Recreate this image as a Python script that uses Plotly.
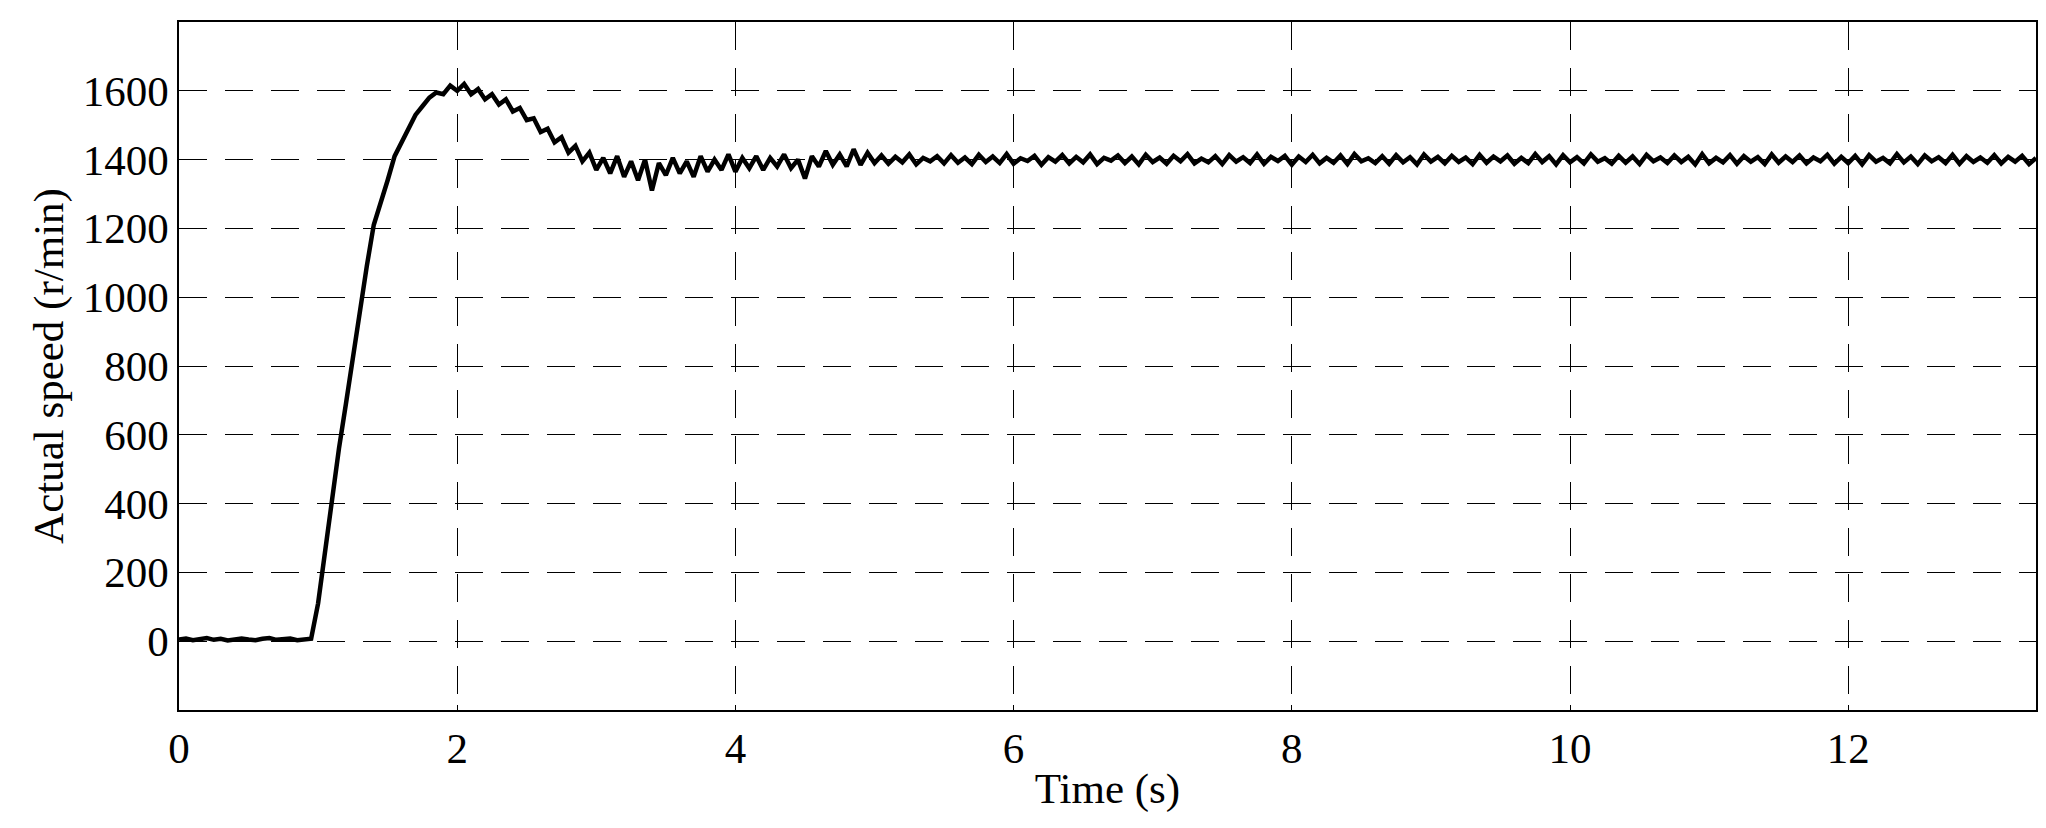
import plotly.graph_objects as go

# measured speed, sampled every 0.05 s
speed = [
    5, 8, 3, 6, 9, 4, 7, 2, 6, 8, 5, 3, 7, 9, 4, 6, 8, 3, 5, 7,
    110, 260, 420, 560, 690, 830, 960, 1090, 1210, 1270,
    1340, 1410, 1450, 1490, 1530, 1555, 1580, 1595, 1590, 1615,
    1600, 1620, 1590, 1605, 1575, 1590, 1560, 1575, 1540, 1550,
    1515, 1520, 1480, 1490, 1450, 1465, 1420, 1440, 1395, 1420,
    1370, 1405, 1360, 1410, 1350, 1395, 1340, 1400, 1310, 1390,
    1355, 1405, 1360, 1395, 1350, 1410, 1365, 1400, 1370, 1415,
    1365, 1405, 1375, 1410, 1370, 1405, 1380, 1415, 1375, 1400,
    1345, 1410, 1380, 1425, 1385, 1415, 1380, 1430, 1385, 1420,
    1390,
    1412, 1388, 1408, 1392, 1415, 1386, 1405, 1395, 1410, 1389, 1413, 1391, 1406, 1387, 1414, 1393, 1409, 1390, 1416, 1388,
    1404, 1396, 1411, 1385, 1407, 1394, 1413, 1389, 1408, 1392, 1415, 1387, 1405, 1397, 1412, 1390, 1409, 1386, 1414, 1393,
    1406, 1388, 1411, 1395, 1416, 1389, 1403, 1392, 1410, 1387, 1413, 1394, 1407, 1390, 1415, 1388, 1408, 1396, 1411, 1385,
    1409, 1393, 1414, 1389, 1405, 1391, 1412, 1387, 1416, 1395, 1404, 1390, 1410, 1388, 1413, 1392, 1407, 1386, 1415, 1394,
    1408, 1389, 1411, 1393, 1406, 1387, 1414, 1391, 1409, 1395, 1412, 1388, 1405, 1390, 1416, 1393, 1410, 1386, 1413, 1392,
    1407, 1389, 1415, 1394, 1404, 1388, 1411, 1391, 1409, 1387, 1414, 1395, 1406, 1390, 1412, 1393, 1408, 1386, 1416, 1389,
    1405, 1392, 1413, 1388, 1410, 1394, 1407, 1387, 1415, 1391, 1409, 1393, 1412, 1389, 1406, 1395, 1414, 1388, 1408, 1390,
    1411, 1386, 1413, 1394, 1405, 1389, 1416, 1392, 1409, 1387, 1412, 1395, 1407, 1390, 1414, 1388, 1410, 1393, 1406, 1391,
    1413, 1389, 1408, 1394, 1411, 1387, 1405,
]
time = [round(i * 0.05, 2) for i in range(len(speed))]

x_ticks = [0, 2, 4, 6, 8, 10, 12]
y_ticks = [0, 200, 400, 600, 800, 1000, 1200, 1400, 1600]

fig = go.Figure(go.Scatter(x=time, y=speed, mode="lines",
                           line=dict(color="black", width=4.5)))

axis_style = dict(showline=True, linecolor="black", linewidth=1.5, mirror=True,
                  showgrid=True, gridcolor="black", gridwidth=1.2, griddash="28px,18px",
                  zeroline=False, ticks="inside", ticklen=5, tickcolor="black",
                  tickfont=dict(family="Liberation Serif", size=43, color="black"),
                  title_font=dict(family="Liberation Serif", size=43, color="black"))

fig.update_xaxes(range=[0, 13.35], tickvals=x_ticks, title_text="Time (s)",
                 title_standoff=2, **axis_style)
fig.update_yaxes(range=[-200, 1800], tickvals=y_ticks, title_text="Actual speed (r/min)",
                 title_standoff=6, **axis_style)

fig.update_layout(width=2046, height=828, plot_bgcolor="white", paper_bgcolor="white",
                  margin=dict(l=171, r=18, t=14, b=126), showlegend=False)

fig.write_html("out.html")
